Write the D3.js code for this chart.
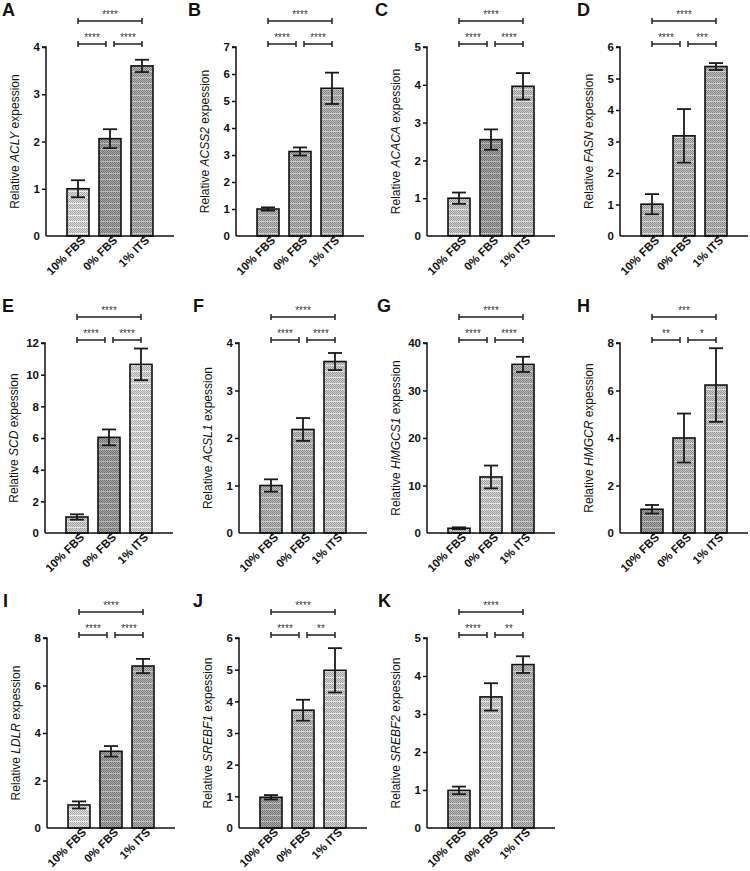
<!DOCTYPE html>
<html><head><meta charset="utf-8">
<script src="https://cdn.jsdelivr.net/npm/d3@7/dist/d3.min.js"></script>
<style>body{margin:0;background:#fff}svg{display:block}</style>
</head><body>
<svg id="chart" width="750" height="871"></svg>
<script>
// ---------- data ----------
const categories = ["10% FBS", "0% FBS", "1% ITS"];
const panelLetters = ["A","B","C","D","E","F","G","H","I","J","K"];
const genes = ["ACLY","ACSS2","ACACA","FASN","SCD","ACSL1","HMGCS1","HMGCR","LDLR","SREBF1","SREBF2"];
const meanValues = [
  [1.00, 2.06, 3.60],
  [1.00, 3.13, 5.47],
  [1.00, 2.55, 3.96],
  [1.01, 3.18, 5.38],
  [1.01, 6.04, 10.65],
  [1.00, 2.18, 3.61],
  [1.00, 11.8, 35.5],
  [1.00, 4.00, 6.23],
  [0.97, 3.23, 6.82],
  [0.97, 3.72, 4.98],
  [0.99, 3.45, 4.30]
];
const errorValues = [
  [0.18, 0.20, 0.13],
  [0.06, 0.15, 0.58],
  [0.15, 0.27, 0.35],
  [0.32, 0.85, 0.11],
  [0.17, 0.50, 1.00],
  [0.13, 0.24, 0.18],
  [0.20, 2.40, 1.60],
  [0.18, 1.03, 1.55],
  [0.15, 0.22, 0.30],
  [0.07, 0.33, 0.70],
  [0.10, 0.36, 0.22]
];
const yMaxValues = [4, 7, 5, 6, 12, 4, 40, 8, 8, 6, 5];
const yTickSteps = [1, 1, 1, 1, 2, 1, 10, 2, 2, 1, 1];
const sigLeft  = ["****","****","****","****","****","****","****","**","****","****","****"];
const sigRight = ["****","****","****","***","****","****","****","*","****","**","**"];
const sigTop   = ["****","****","****","****","****","****","****","***","****","****","****"];

// ---------- layout / style ----------
const axisX   = [46, 236, 427, 620, 45, 239, 427, 620, 47, 239, 427];
const letterX = [2, 188, 375, 577, 2, 193, 377, 577, 3, 193, 378];
const rowTop = [47, 343, 638];
const rowBottom = [236, 533, 828];
const axisW = 128;
const barShades = [
  [0xc4,0x90,0x9c],[0xa4,0xa0,0xa4],[0xb8,0x8e,0xb4],[0xac,0xa8,0xa4],
  [0xbc,0x8e,0xc4],[0xa4,0xa8,0xb8],[0xc0,0xbc,0xa0],[0x90,0xac,0xb4],
  [0xc8,0x92,0x9c],[0x92,0xac,0xbc],[0xa4,0xbc,0xa8]
];
const FONT = "'Liberation Sans', Arial, sans-serif";

const svg = d3.select("#chart");
const defs = svg.append("defs");
defs.append("filter").attr("id", "flat").attr("x", 0).attr("y", 0).attr("width", 1).attr("height", 1)
  .append("feOffset").attr("dx", 0).attr("dy", 0);
const patternIds = {};
function gray(v){ v = Math.max(0, Math.min(255, Math.round(v))); return d3.rgb(v, v, v).formatHex(); }
function patternFor(v){
  if (patternIds[v]) return patternIds[v];
  const id = "pat" + v;
  const p = defs.append("pattern").attr("id", id).attr("patternUnits","userSpaceOnUse")
    .attr("width", 2).attr("height", 6);
  p.append("rect").attr("width", 2).attr("height", 6).attr("fill", gray(v + 26));
  for (let r = 0; r < 5; r++) {
    p.append("rect").attr("x", r % 2).attr("y", r).attr("width", 1).attr("height", 1).attr("fill", gray(v - 30));
  }
  p.append("rect").attr("x", 0).attr("y", 5).attr("width", 2).attr("height", 1).attr("fill", gray(v + 40));
  patternIds[v] = id;
  return id;
}

panelLetters.forEach((letter, i) => {
  const row = Math.floor(i / 4);
  const ax = axisX[i];
  const top = rowTop[row], bottom = rowBottom[row];
  const g = svg.append("g");

  const x = d3.scalePoint().domain(categories).range([ax, ax + axisW]).padding(1);
  const y = d3.scaleLinear().domain([0, yMaxValues[i]]).range([bottom, top]);
  const barW = 22;

  // bars
  g.selectAll("rect.bar").data(categories).join("rect")
    .attr("x", d => x(d) - barW / 2)
    .attr("y", (d, j) => y(meanValues[i][j]))
    .attr("width", barW)
    .attr("height", (d, j) => y(0) - y(meanValues[i][j]))
    .attr("fill", (d, j) => "url(#" + patternFor(barShades[i][j]) + ")")
    .attr("stroke", "#111").attr("stroke-width", 1.6);

  // error bars
  const eb = g.selectAll("g.err").data(categories).join("g").attr("stroke", "#1a1a1a").attr("stroke-width", 1.8);
  eb.append("line").attr("x1", d => x(d)).attr("x2", d => x(d))
    .attr("y1", (d, j) => y(meanValues[i][j] - errorValues[i][j]))
    .attr("y2", (d, j) => y(meanValues[i][j] + errorValues[i][j]));
  [1, -1].forEach(s => {
    eb.append("line").attr("x1", d => x(d) - 7).attr("x2", d => x(d) + 7)
      .attr("y1", (d, j) => y(meanValues[i][j] + s * errorValues[i][j]))
      .attr("y2", (d, j) => y(meanValues[i][j] + s * errorValues[i][j]));
  });

  // y axis
  const yAxis = d3.axisLeft(y).tickValues(d3.range(0, yMaxValues[i] + 1e-9, yTickSteps[i]))
    .tickSize(4).tickPadding(2).tickFormat(d3.format("d"));
  const ya = g.append("g").attr("transform", `translate(${ax},0)`).call(yAxis);
  ya.select(".domain").attr("d", `M-4,${top}H0V${bottom}`).attr("stroke", "#111").attr("stroke-width", 1.5);
  ya.selectAll(".tick line").attr("stroke", "#111").attr("stroke-width", 1.5);
  ya.selectAll(".tick text").attr("font-family", FONT).attr("font-size", 11.5).attr("font-weight", "bold").attr("fill", "#111");
  ya.select(".tick:first-of-type line").remove();

  // x axis
  const xAxis = d3.axisBottom(x).tickSize(3).tickFormat("");
  const xa = g.append("g").attr("transform", `translate(0,${bottom})`).call(xAxis);
  xa.select(".domain").attr("d", `M${ax},0H${ax + axisW}`).attr("stroke", "#111").attr("stroke-width", 1.5);
  xa.selectAll(".tick line").attr("stroke", "#111").attr("stroke-width", 1.2);
  g.selectAll("text.xl").data(categories).join("text")
    .attr("transform", d => `translate(${x(d) + 8},${bottom + 5}) rotate(-45)`)
    .attr("text-anchor", "end")
    .attr("font-family", FONT).attr("font-size", 11.5).attr("font-weight", "bold").attr("fill", "#111")
    .text(d => d);

  // y label
  const yl = g.append("text")
    .attr("transform", `translate(${ax - 31},${(top + bottom) / 2}) rotate(-90)`)
    .attr("text-anchor", "middle").attr("dominant-baseline", "central")
    .attr("font-family", FONT).attr("font-size", 12).attr("fill", "#111");
  yl.append("tspan").text("Relative ");
  yl.append("tspan").attr("font-style", "italic").text(genes[i]);
  yl.append("tspan").text(" expession");

  // panel letter
  g.append("text").attr("x", letterX[i]).attr("y", top - 31)
    .attr("font-family", FONT).attr("font-size", 18).attr("font-weight", "bold").attr("fill", "#111")
    .text(letter);

  // significance brackets
  const c0 = x(categories[0]), c1 = x(categories[1]), c2 = x(categories[2]);
  const brackets = [
    {x1: c0, x2: c1 - 4, yy: top - 3, label: sigLeft[i]},
    {x1: c1 + 4, x2: c2, yy: top - 3, label: sigRight[i]},
    {x1: c0, x2: c2, yy: top - 26, label: sigTop[i]}
  ];
  const starG = g.append("g").attr("filter", "url(#flat)");
  brackets.forEach(b => {
    const bg = g.append("g").attr("stroke", "#222").attr("stroke-width", 1.5);
    bg.append("line").attr("x1", b.x1).attr("x2", b.x2).attr("y1", b.yy).attr("y2", b.yy);
    bg.append("line").attr("x1", b.x1).attr("x2", b.x1).attr("y1", b.yy - 3).attr("y2", b.yy + 3);
    bg.append("line").attr("x1", b.x2).attr("x2", b.x2).attr("y1", b.yy - 3).attr("y2", b.yy + 3);
    starG.append("text").attr("x", (b.x1 + b.x2) / 2).attr("y", b.yy - 3)
      .attr("text-anchor", "middle").attr("font-family", FONT).attr("font-size", 10)
      .attr("fill", "#333").text(b.label);
  });
});
</script>
</body></html>
